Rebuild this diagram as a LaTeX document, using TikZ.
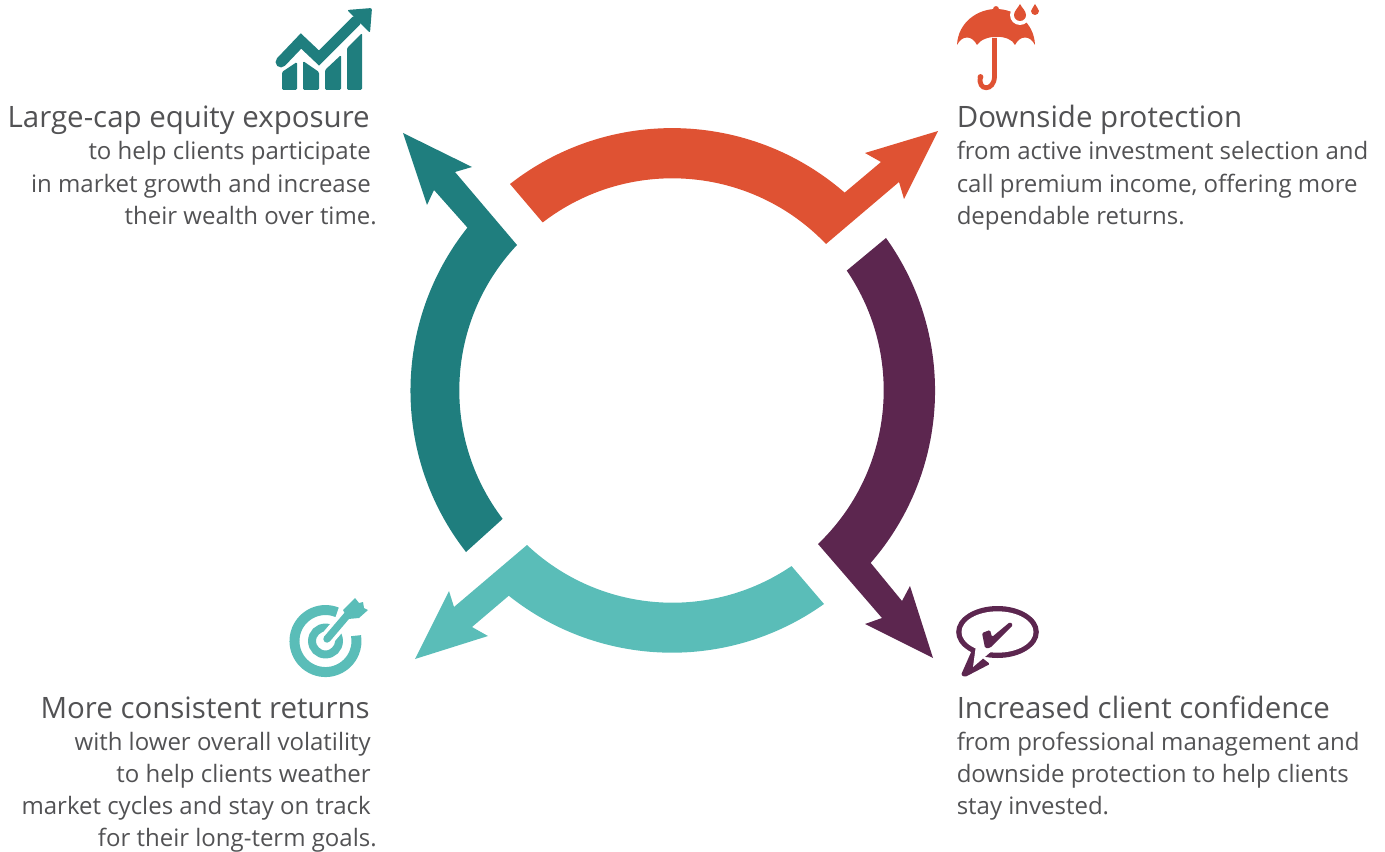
\documentclass[tikz,border=0pt]{standalone}
\usepackage{fontspec}
\setmainfont{Open Sans}
\definecolor{cteal}{HTML}{1F7E7E}
\definecolor{cred}{HTML}{DF5233}
\definecolor{cplum}{HTML}{5C264F}
\definecolor{caqua}{HTML}{5ABDB8}
\definecolor{ctext}{HTML}{525254}
\tikzset{
 headr/.style={anchor=base east,inner sep=0,font=\fontsize{22.1}{26}\selectfont,text=ctext},
 headl/.style={anchor=base west,inner sep=0,font=\fontsize{22.1}{26}\selectfont,text=ctext},
 bodyr/.style={anchor=base east,inner sep=0,font=\fontsize{18}{22}\selectfont,text=ctext},
 bodyl/.style={anchor=base west,inner sep=0,font=\fontsize{18}{22}\selectfont,text=ctext}
}
\begin{document}
\begin{tikzpicture}[x=0.75pt,y=-0.75pt]
\useasboundingbox (0,0) rectangle (1385,852);
% ring arrows
\fill[cred] (510,184) arc[start angle=128.05,end angle=49,radius=197.25pt] -- (881,162) -- (865,153) -- (938,131) -- (904,199) -- (899,182) -- (826,244) arc[start angle=43.7,end angle=127.6,radius=159.4pt] -- cycle;
\fill[cplum] (886,238) arc[start angle=35.6,end angle=-41,radius=196.8pt] -- (902,601) -- (910,586) -- (933,658) -- (865,624) -- (882,618) -- (818,544) arc[start angle=-46.3,end angle=34.3,radius=159.4pt] -- cycle;
\fill[cteal] (466,552) arc[start angle=218,end angle=141.5,radius=196.5pt] -- (434,190) -- (427,205) -- (403,133) -- (472,167) -- (455,172) -- (517,245) arc[start angle=136.7,end angle=217.3,radius=159pt] -- cycle;
\fill[caqua] (824,604) arc[start angle=-54.5,end angle=-128.5,radius=196.5pt] -- (472,627) -- (488,636) -- (415,659) -- (449,591) -- (454,607) -- (527,545) arc[start angle=-133.3,end angle=-55.8,radius=159pt] -- cycle;
% chart icon
\draw[cteal,line width=8.2pt,line cap=round,line join=miter] (281,62) -- (301,41) -- (319,58) -- (356,21);
\fill[cteal,rounded corners=1.5pt] (347,10) -- (372,8) -- (370,33) -- cycle;
\fill[cteal,rounded corners=1pt] (282,72) -- (297,62) -- (297,90) -- (282,90) -- cycle;
\fill[cteal,rounded corners=1pt] (303,61) -- (319,72) -- (319,90) -- (303,90) -- cycle;
\fill[cteal,rounded corners=1pt] (325,70) -- (341,55) -- (341,90) -- (325,90) -- cycle;
\fill[cteal,rounded corners=1pt] (347,48) -- (362,33) -- (362,90) -- (347,90) -- cycle;
% umbrella icon
\fill[cred] (996,9) circle[radius=2.2pt];
\fill[cred] (957,45) .. controls (958,22) and (978,9) .. (996,9) .. controls (1015,9) and (1034,22) .. (1035,45)
  .. controls (1030,35) and (1020,35) .. (1015,45) .. controls (1010,34) and (984,34) .. (977,45) .. controls (972,35) and (962,35) .. (957,45) -- cycle;
\fill[white] (1020,15) circle[radius=7.5pt];
\draw[cred,line width=3.6pt] (994.5,38) -- (994.5,76) .. controls (994.5,92) and (977,91) .. (980.5,77);
\fill[cred] (980.5,77) circle[radius=2.2pt];
\fill[cred] (1020,4) .. controls (1022,8) and (1026,11) .. (1026,15) arc[start angle=0,end angle=-180,radius=4.5pt] .. controls (1014,11) and (1018,8) .. (1020,4) -- cycle;
\fill[cred] (1035,4) .. controls (1036,7) and (1039,9) .. (1039,11) arc[start angle=0,end angle=-180,radius=3pt] .. controls (1031,9) and (1034,7) .. (1035,4) -- cycle;
% target icon
\draw[caqua,line width=7.5pt] (337.1,612.3) arc[start angle=68,end angle=370,radius=23.25pt];
\draw[caqua,line width=6pt] (325.5,641) circle[radius=10.1pt];
\draw[white,line width=11pt] (327,639) -- (350,612);
\draw[caqua,line width=5.6pt,line cap=round] (327,639) -- (350,612);
\fill[caqua] (343,610) -- (355,598) -- (359,603) -- (363,602) -- (364,608) -- (368,610) -- (359,618) -- (348,619) -- cycle;
% speech icon
\fill[cplum] (997.5,632) ellipse[x radius=31pt,y radius=19.5pt];
\fill[cplum,rounded corners=1pt] (972,650) -- (961,675) -- (965,677) -- (990,664) -- cycle;
\fill[white] (997.5,632) ellipse[x radius=27pt,y radius=15.5pt];
\fill[white] (976,645) -- (973,667) -- (993,650) -- cycle;
\fill[cplum,rounded corners=1pt] (982,633) -- (990,630) -- (992,637) -- (1010,622) -- (1013,625) -- (990,648) -- (985,648) -- cycle;
% text
\node[headr] (h1) at (370,128) {Large-cap equity exposure};
\node[bodyr] (a1) at (371,160) {to help clients participate};
\node[bodyr] (a2) at (371,193) {in market growth and increase};
\node[bodyr] (a3) at (377,225) {their wealth over time.};
\node[headl] (h2) at (956.5,128) {Downside protection};
\node[bodyl] (b1) at (956.5,160) {from active investment selection and};
\node[bodyl] (b2) at (956.5,193) {call premium income, offering more};
\node[bodyl] (b3) at (956.5,225) {dependable returns.};
\node[headr] (h3) at (370,718) {More consistent returns};
\node[bodyr] (c1) at (371,750) {with lower overall volatility};
\node[bodyr] (c2) at (371,782) {to help clients weather};
\node[bodyr] (c3) at (371,814) {market cycles and stay on track};
\node[bodyr] (c4) at (377,846) {for their long-term goals.};
\node[headl] (h4) at (956.5,718) {Increased client confidence};
\node[bodyl] (d1) at (956.5,750) {from professional management and};
\node[bodyl] (d2) at (956.5,782) {downside protection to help clients};
\node[bodyl] (d3) at (956.5,814) {stay invested.};
\end{tikzpicture}
\end{document}
